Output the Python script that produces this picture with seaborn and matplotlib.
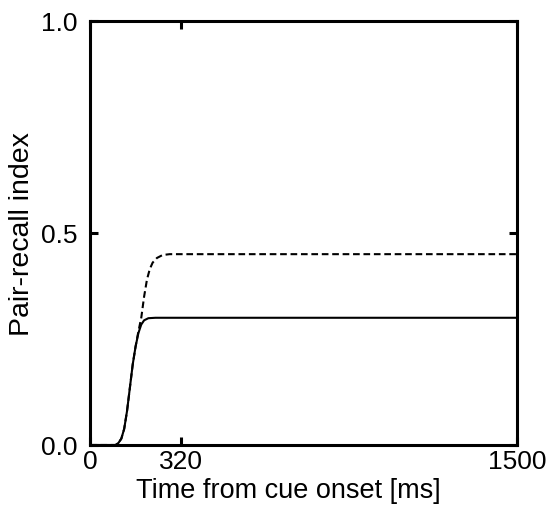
import numpy as np
import pandas as pd
import seaborn as sns
import matplotlib.pyplot as plt

# values
time_solid = [0, 90, 100, 110, 120, 130, 140, 150, 160, 170, 180, 190, 205, 230, 1500]
recall_solid = [0, 0, 0.005, 0.015, 0.038, 0.08, 0.135, 0.19, 0.232, 0.264, 0.284, 0.294, 0.299, 0.3, 0.3]

time_dashed = [0, 90, 100, 110, 120, 130, 140, 150, 160, 170, 180, 190, 200, 210, 220, 235, 255, 280, 1500]
recall_dashed = [0, 0, 0.005, 0.015, 0.038, 0.08, 0.135, 0.19, 0.232, 0.268, 0.30, 0.35, 0.39, 0.415, 0.43, 0.441, 0.448, 0.45, 0.45]

x_ticks = [0, 320, 1500]
y_ticks = [0.0, 0.5, 1.0]

df_solid = pd.DataFrame({"t": time_solid, "r": recall_solid})
df_dashed = pd.DataFrame({"t": time_dashed, "r": recall_dashed})

sns.set_style("white")
plt.rcParams["font.family"] = ["Liberation Sans", "DejaVu Sans"]

fig = plt.figure(figsize=(5.54, 5.10), dpi=100)
ax = fig.add_axes([0.1625, 0.1255, 0.7707, 0.8315])

sns.lineplot(data=df_solid, x="t", y="r", ax=ax, color="black", linewidth=1.5)
sns.lineplot(data=df_dashed, x="t", y="r", ax=ax, color="black", linewidth=1.5,
             linestyle=(0, (3.2, 1.8)))

ax.set_xlim(0, 1500)
ax.set_ylim(0, 1)
ax.set_xticks(x_ticks)
ax.set_xticklabels([str(v) for v in x_ticks])
ax.set_yticks(y_ticks)
ax.set_yticklabels([f"{v:.1f}" for v in y_ticks])

for s in ax.spines.values():
    s.set_visible(True)
    s.set_linewidth(2.2)
    s.set_color("black")

ax.tick_params(axis="both", direction="in", length=6, width=2.2, labelsize=19,
               top=True, right=True, bottom=True, left=True,
               colors="black", labelcolor="black")
ax.tick_params(axis="x", pad=3)
ax.tick_params(axis="y", pad=9)

ax.set_xlabel("Time from cue onset [ms]", fontsize=19.5, color="black")
ax.set_ylabel("Pair-recall index", fontsize=20.5, color="black")
ax.xaxis.set_label_coords(0.465, -0.075)
ax.yaxis.set_label_coords(-0.128, 0.5)

fig.savefig("out.png", dpi=100)
